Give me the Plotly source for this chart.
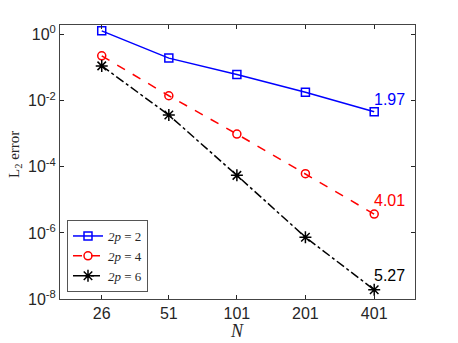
import plotly.graph_objects as go
import math

N = [26, 51, 101, 201, 401]
err_p2 = [1.30, 0.194, 0.062, 0.018, 0.0046]
err_p4 = [0.227, 0.0141, 9.8e-4, 6.2e-5, 3.7e-6]
err_p6 = [0.113, 3.67e-3, 5.5e-5, 7.4e-7, 1.9e-8]
rates = ["1.97", "4.01", "5.27"]
names = ["<i>2p</i> = 2", "<i>2p</i> = 4", "<i>2p</i> = 6"]
ytick_vals = [1e-8, 1e-6, 1e-4, 1e-2, 1]
ytick_text = ["10<sup>-8</sup>", "10<sup>-6</sup>", "10<sup>-4</sup>", "10<sup>-2</sup>", "10<sup>0</sup>"]

colors = ["#0000ff", "#ff0000", "#000000"]
dashes = ["solid", "dash", "dashdot"]
symbols = ["square-open", "circle-open", "asterisk-open"]
series = [err_p2, err_p4, err_p6]
shifts = [12, 14, 14]

SERIF = "Liberation Serif, Times New Roman, serif"
SANS = "Liberation Sans, Arial, sans-serif"

fig = go.Figure()
for s, nm, c, d, sy in zip(series, names, colors, dashes, symbols):
    fig.add_trace(go.Scatter(
        x=N, y=s, name=nm, mode="lines+markers",
        line=dict(color=c, width=1.5, dash=d),
        marker=dict(symbol=sy, size=8 if sy != "asterisk-open" else 10,
                    color=c, line=dict(color=c, width=1.5)),
    ))

for s, r, c, sh in zip(series, rates, colors, shifts):
    fig.add_annotation(x=math.log10(N[-1]), y=math.log10(s[-1]), text=r,
                       showarrow=False, xanchor="left", yanchor="middle",
                       xshift=-2, yshift=sh,
                       font=dict(family=SANS, size=16, color=c))

# axis titles
fig.add_annotation(xref="paper", yref="paper", x=-0.127, y=0.529,
                   text="L<sub>2</sub> error", textangle=-90, showarrow=False,
                   xanchor="center", yanchor="middle",
                   font=dict(family=SERIF, size=15, color="#262626"))
fig.add_annotation(xref="paper", yref="paper", x=0.4986, y=-0.117,
                   text="<i>N</i>", showarrow=False,
                   xanchor="center", yanchor="middle",
                   font=dict(family=SERIF, size=18, color="#262626"))

# page body adds an 8px offset; margins compensate so the plot area sits at x 60-415, y 25-299
fig.update_layout(
    width=458, height=343,
    margin=dict(l=52, r=51, t=17, b=52),
    paper_bgcolor="white", plot_bgcolor="white",
    font=dict(family=SANS, size=16, color="#262626"),
    showlegend=True,
    legend=dict(x=0.0197, y=0.0255, xanchor="left", yanchor="bottom",
                bgcolor="white", bordercolor="#555555", borderwidth=1,
                font=dict(family=SERIF, size=13, color="#262626"),
                tracegroupgap=0, itemwidth=30),
)
fig.update_xaxes(
    type="log", range=[math.log10(17.1), math.log10(604)],
    tickvals=N, ticktext=[str(n) for n in N],
    ticks="inside", ticklen=4, tickcolor="#262626",
    showline=True, linecolor="#444444", linewidth=1, mirror="ticks",
    showgrid=False, zeroline=False, automargin=False,
    tickfont=dict(family=SANS, size=16, color="#262626"),
)
fig.update_yaxes(
    type="log", range=[-8, 0.29],
    tickvals=ytick_vals, ticktext=ytick_text,
    ticks="inside", ticklen=4, tickcolor="#262626",
    showline=True, linecolor="#444444", linewidth=1, mirror="ticks",
    showgrid=False, zeroline=False, automargin=False,
    tickfont=dict(family=SANS, size=16, color="#262626"),
)
fig.write_html("out.html")
